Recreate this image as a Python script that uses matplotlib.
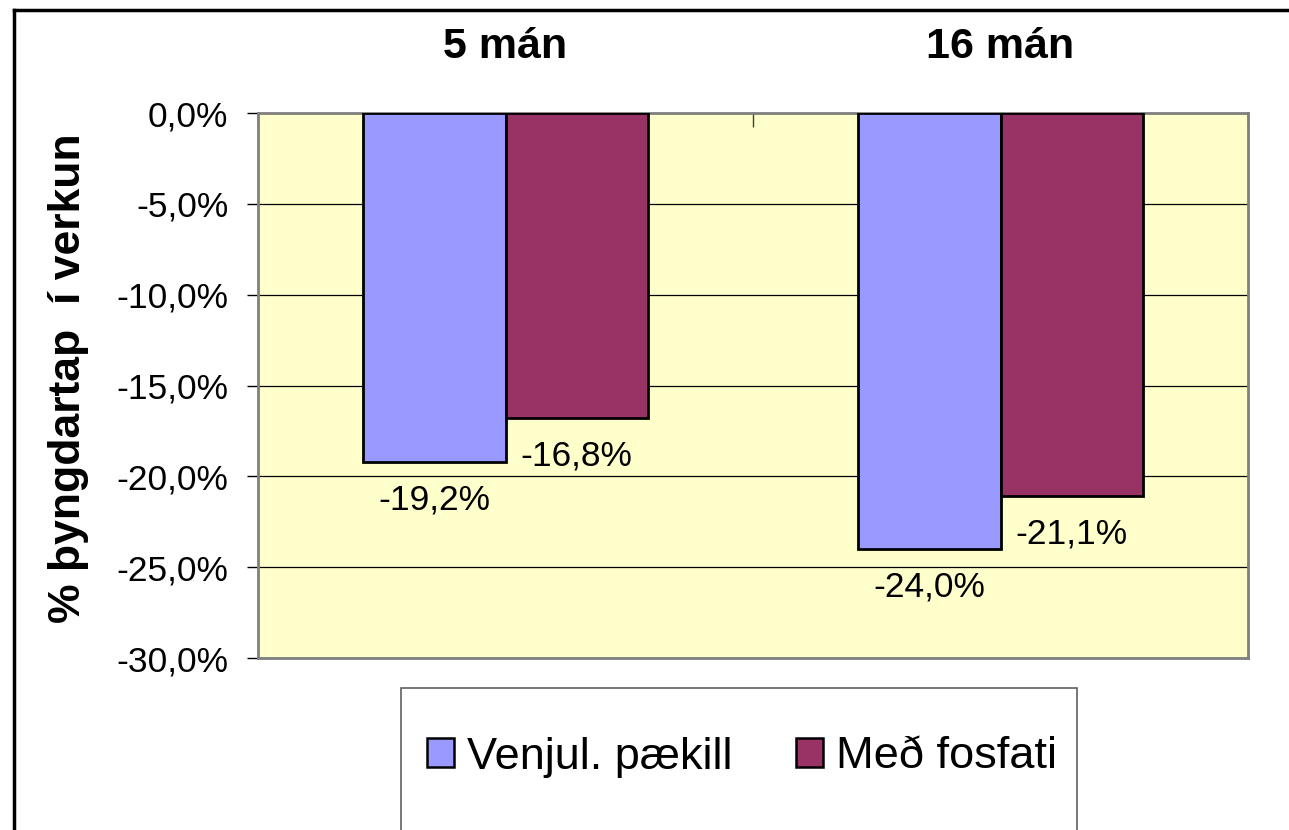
import matplotlib
matplotlib.use("Agg")
import matplotlib.pyplot as plt
from matplotlib.patches import Rectangle, Patch
from matplotlib.lines import Line2D
from matplotlib.ticker import FuncFormatter
import matplotlib.transforms as mtransforms

plt.rcParams['font.family'] = ['Liberation Sans', 'DejaVu Sans']

categories = ["5 mán", "16 mán"]
series_names = ["Venjul. pækill", "Með fosfati"]
venjul = [-19.2, -24.0]
fosfat = [-16.8, -21.1]
yticks = [0, -5, -10, -15, -20, -25, -30]

W, H = 1289, 830
fig = plt.figure(figsize=(W/100, H/100), dpi=100)
fig.patch.set_facecolor("white")

# outer chart border (cut off at right and bottom)
fig.add_artist(Line2D([14/W, 14/W], [0, 1 - 10/H], color="black", lw=2.5, transform=fig.transFigure))
fig.add_artist(Line2D([14/W, 1.0], [1 - 10/H, 1 - 10/H], color="black", lw=2.5, transform=fig.transFigure))

left, right, top, bottom = 258, 1248, 113, 658
ax = fig.add_axes([left/W, 1 - bottom/H, (right-left)/W, (bottom-top)/H])
ax.set_facecolor("#FFFFCC")

x = [0, 1]
bw = 0.287
b1 = ax.bar([xi - bw/2 for xi in x], venjul, width=bw, color="#9999FF", edgecolor="black", linewidth=2, zorder=3)
b2 = ax.bar([xi + bw/2 for xi in x], fosfat, width=bw, color="#993366", edgecolor="black", linewidth=2, zorder=3)

def fmt(v):
    return f"{v:.1f}%".replace(".", ",")

for bars, vals in ((b1, venjul), (b2, fosfat)):
    for rect, v in zip(bars, vals):
        ax.annotate(fmt(v), xy=(rect.get_x() + rect.get_width()/2, v), xytext=(0, -38),
                    textcoords="offset pixels", ha="center", va="center", fontsize=25.5, zorder=4)

ax.set_xlim(-0.5, 1.5)
ax.set_ylim(-30, 0)
ax.set_yticks(yticks)
ax.yaxis.set_major_formatter(FuncFormatter(lambda v, p: fmt(v)))
ax.tick_params(axis="y", length=8, width=1, color="black", pad=13.5, labelsize=25.5)
ax.yaxis.grid(True, color="black", linewidth=0.9, zorder=1)

# category boundary ticks at the top, pointing inward
ax.set_xticks([-0.5, 0.5, 1.5])
ax.set_xticklabels([])
ax.xaxis.tick_top()
ax.tick_params(axis="x", which="major", direction="in", length=10, width=1, color="#404040")

trans = mtransforms.blended_transform_factory(ax.transData, ax.transAxes)
for xi, c in zip(x, categories):
    ax.text(xi, (bottom - 47) / (bottom - top), c, transform=trans, ha="center", va="center",
            fontsize=31, fontweight="bold")

for s in ax.spines.values():
    s.set_color("#808080")
    s.set_linewidth(2)

fig.text(69/W, 1 - 378/H, "% þyngdartap  í verkun", rotation=90, ha="center", va="center",
         fontsize=32, fontweight="bold")

# legend box (cut off at bottom)
fig.add_artist(Rectangle((401/W, -0.05), (1077-401)/W, 1 - 688/H + 0.05, transform=fig.transFigure,
                         facecolor="white", edgecolor="#606060", linewidth=1.2))
handles = [Patch(facecolor="#9999FF", edgecolor="black", linewidth=1.8),
           Patch(facecolor="#993366", edgecolor="black", linewidth=1.8)]
fig.legend(handles, series_names, loc="center", bbox_to_anchor=(742/W, 1 - 757/H), ncol=2,
           frameon=False, fontsize=32.5, handlelength=0.6, handleheight=0.6, handletextpad=0.3,
           columnspacing=1.4, borderpad=0)

fig.savefig("out.png", dpi=100)
